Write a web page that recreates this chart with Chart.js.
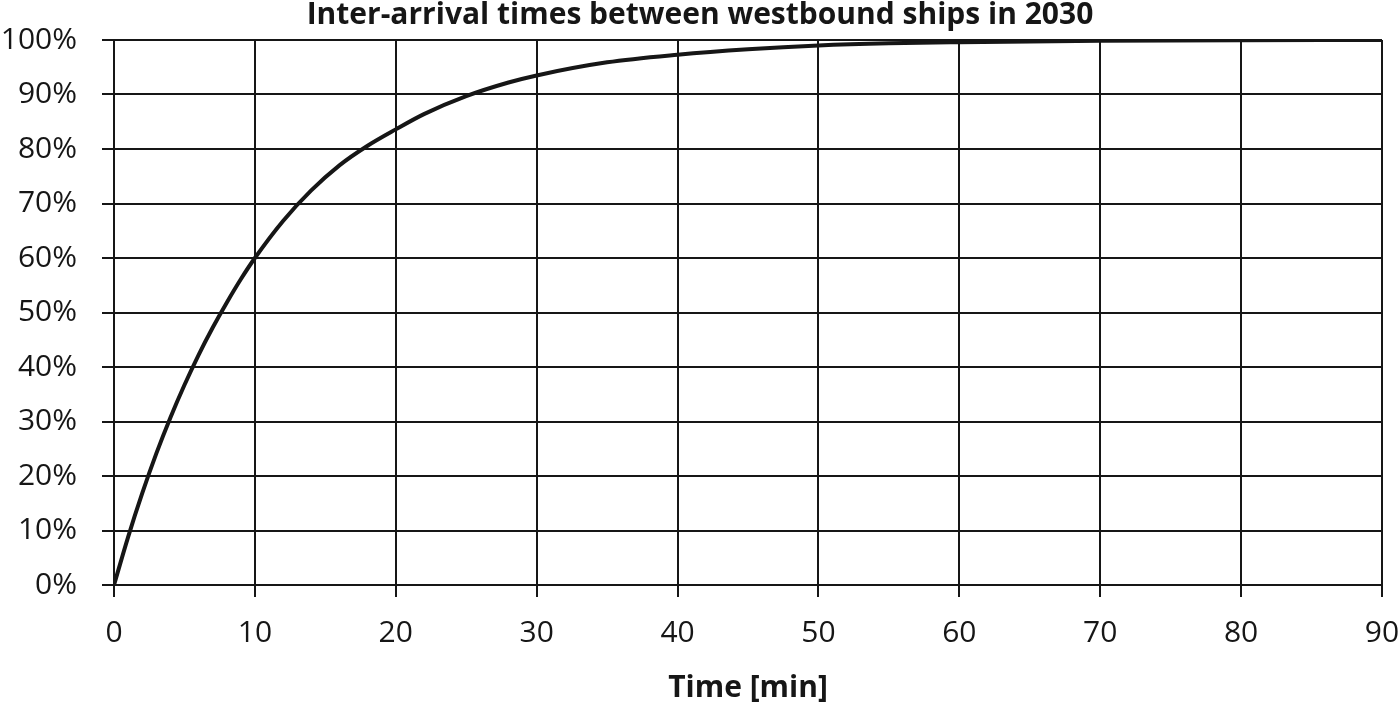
<!DOCTYPE html>
<html>
<head>
<meta charset="utf-8">
<script src="https://cdn.jsdelivr.net/npm/chart.js@4/dist/chart.umd.min.js"></script>
<style>
  html, body { margin: 0; padding: 0; background: #fff; }
  #wrap { width: 1400px; height: 706px; }
</style>
</head>
<body>
<div id="wrap"><canvas id="c" width="1400" height="706"></canvas></div>
<script>
const chartTitle = "Inter-arrival times between westbound ships in 2030";
const xAxisTitle = "Time [min]";
const times = [0, 1, 2, 3, 4, 5, 6, 7, 8, 9, 10, 12, 14, 16, 18, 20, 22, 25, 28, 30, 35, 40, 45, 50, 55, 60, 70, 80, 90];
const cumulativeShare = [0, 8.8, 16.8, 24.1, 30.7, 36.7, 42.2, 47.2, 51.8, 56.1, 60.0, 66.8, 72.4, 77.0, 80.6, 83.6, 86.4, 89.7, 92.2, 93.5, 95.9, 97.3, 98.3, 99.0, 99.4, 99.6, 99.85, 99.95, 100];
const xTickValues = [0, 10, 20, 30, 40, 50, 60, 70, 80, 90];
const yTickValues = [0, 10, 20, 30, 40, 50, 60, 70, 80, 90, 100];

const ink = '#161616';
const fontFam = "'Open Sans', 'Liberation Sans', sans-serif";

new Chart(document.getElementById('c'), {
  type: 'line',
  data: {
    datasets: [{
      data: times.map((t, i) => ({ x: t, y: cumulativeShare[i] })),
      borderColor: ink,
      borderWidth: 4,
      pointRadius: 0,
      cubicInterpolationMode: 'monotone',
      fill: false
    }]
  },
  options: {
    responsive: false,
    animation: false,
    layout: { padding: { left: 0, right: 0, top: 0, bottom: 0 } },
    plugins: {
      legend: { display: false },
      tooltip: { enabled: false },
      title: {
        display: true,
        text: chartTitle,
        color: ink,
        font: { family: fontFam, size: 30, weight: 'bold', lineHeight: 1.0 },
        padding: { top: 0, bottom: 10 }
      }
    },
    scales: {
      x: {
        type: 'linear',
        min: 0, max: 90,
        afterBuildTicks: s => { s.ticks = xTickValues.map(v => ({ value: v })); },
        afterFit: s => { s.height = 121; s.paddingRight = 18; s.paddingLeft = 0; },
        grid: { color: ink, lineWidth: 2, tickLength: 12, drawTicks: true },
        border: { color: ink, width: 2 },
        ticks: {
          color: ink,
          font: { family: fontFam, size: 30 },
          padding: 18,
          maxRotation: 0
        },
        title: {
          display: true,
          text: xAxisTitle,
          color: ink,
          font: { family: fontFam, size: 30, weight: 'bold' },
          padding: { top: 14, bottom: 0 }
        }
      },
      y: {
        min: 0, max: 100,
        afterBuildTicks: s => { s.ticks = yTickValues.map(v => ({ value: v })); },
        afterFit: s => { s.width = 114; s.paddingTop = 0; s.paddingBottom = 0; },
        grid: { color: ink, lineWidth: 2, tickLength: 12, drawTicks: true },
        border: { color: ink, width: 2 },
        ticks: {
          color: ink,
          font: { family: fontFam, size: 30 },
          padding: 25,
          callback: v => v + '%'
        }
      }
    }
  }
});
</script>
</body>
</html>
